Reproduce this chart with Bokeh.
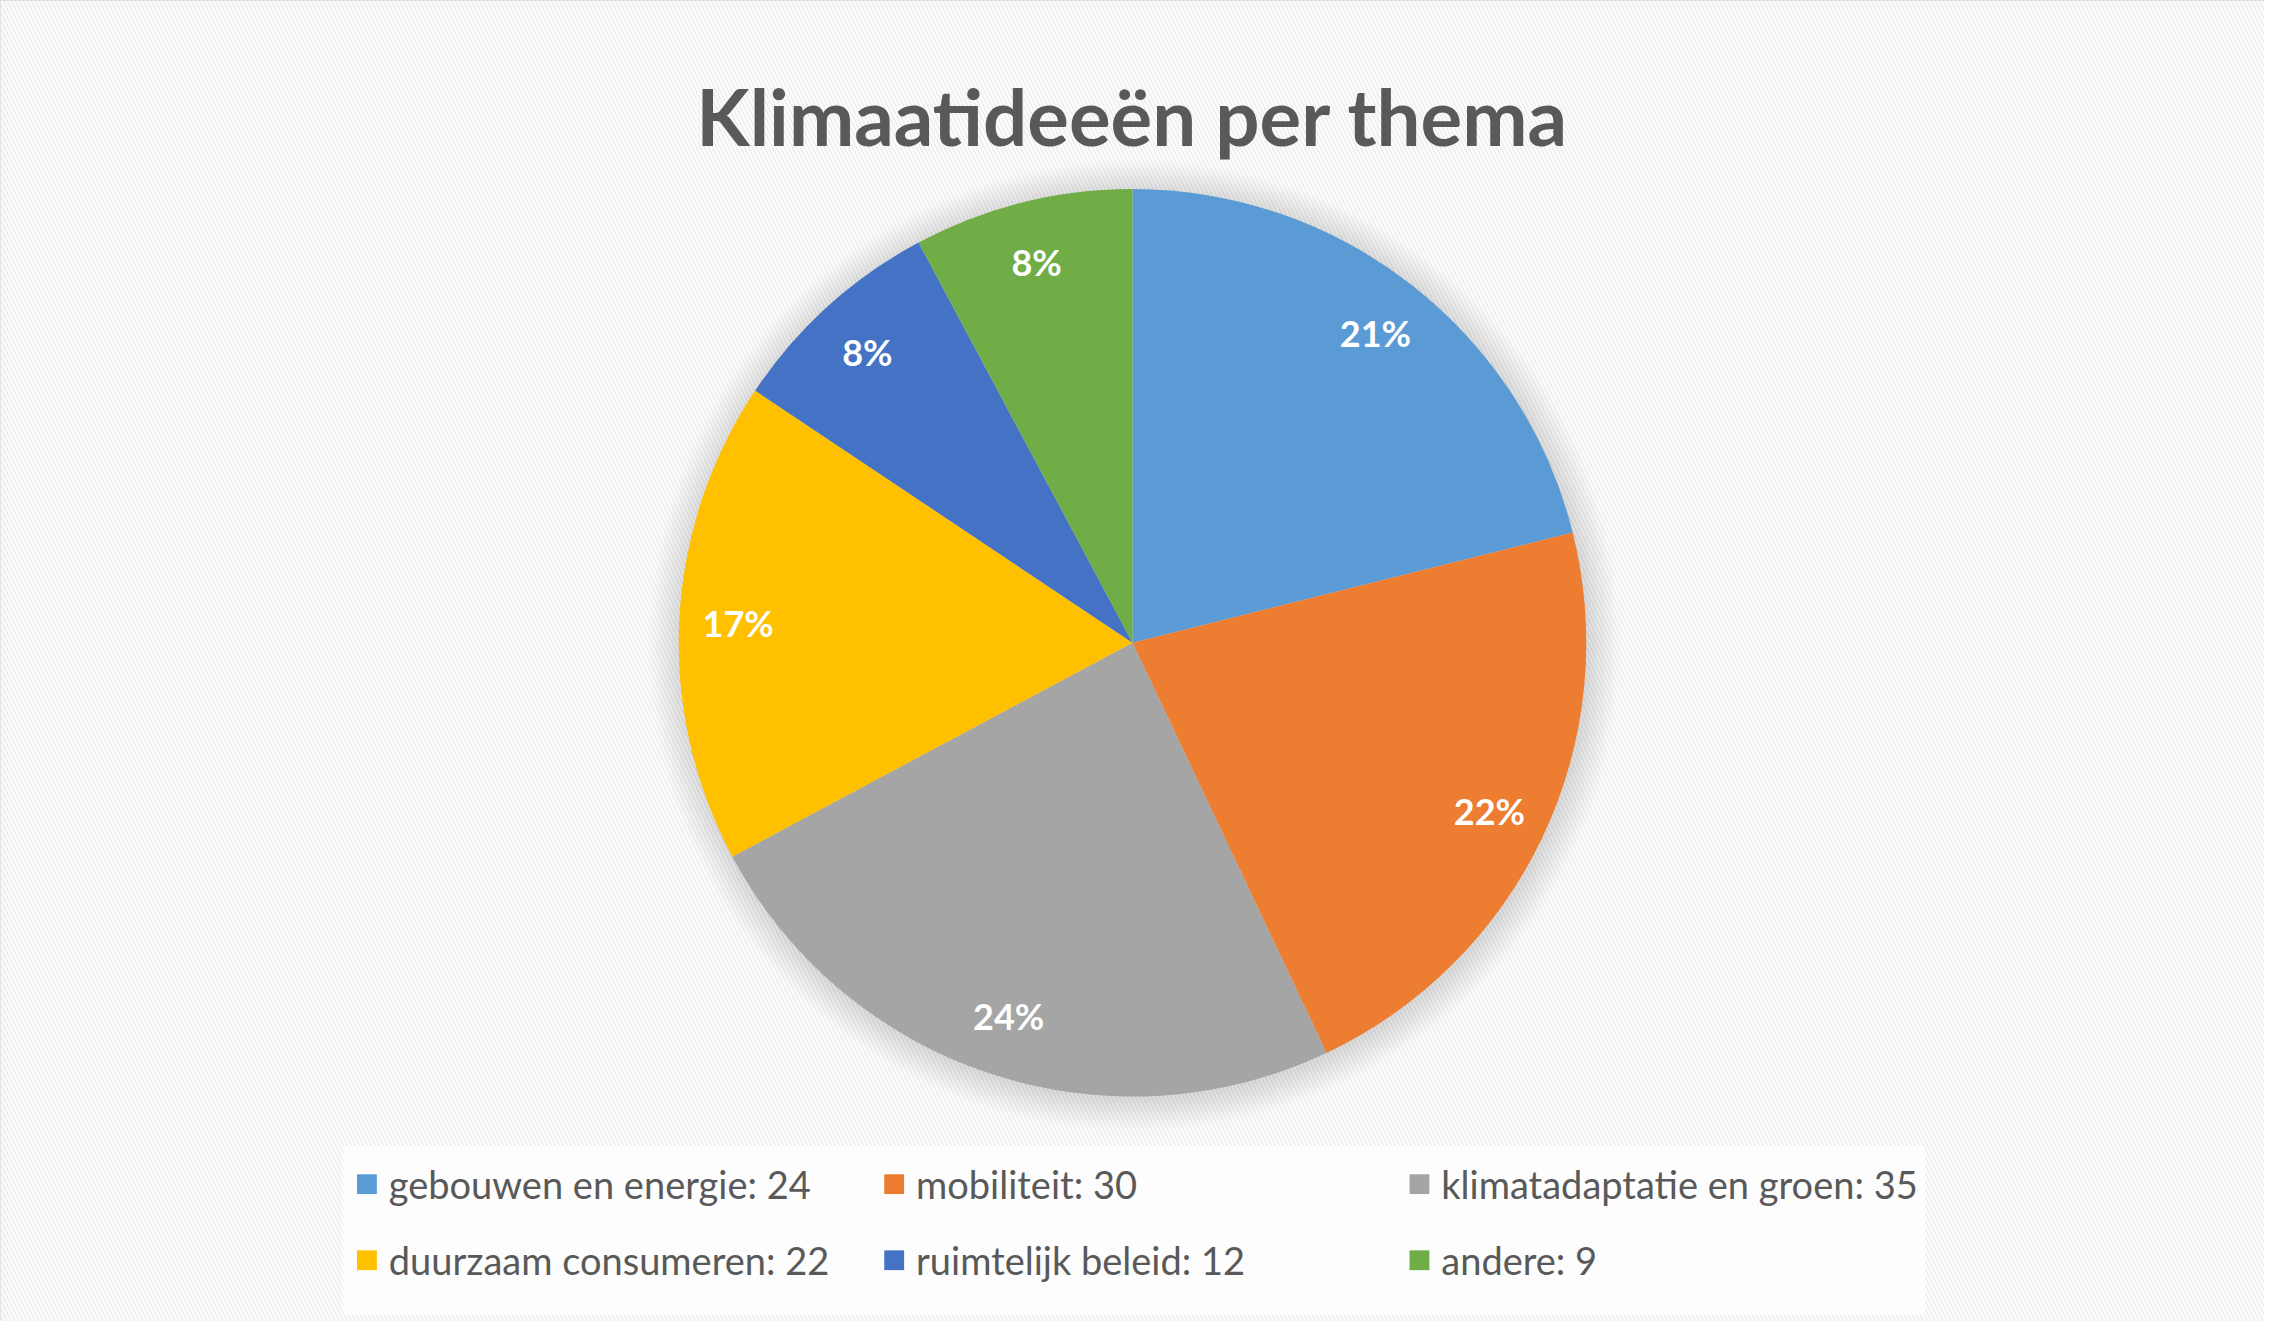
import math
from bokeh.plotting import figure
from bokeh.models import Range1d, ColumnDataSource
from bokeh.core.properties import value
from bokeh.embed import file_html
from bokeh.resources import INLINE

# ---- data ----
categories = ["gebouwen en energie", "mobiliteit", "klimatadaptatie en groen",
              "duurzaam consumeren", "ruimtelijk beleid", "andere"]
legend_counts = [24, 30, 35, 22, 12, 9]
slice_values = [27, 28, 31, 22, 10, 10]   # slice sizes as drawn (21/22/24/17/8/8 %)
colors = ["#5B9BD5", "#ED7D31", "#A5A5A5", "#FFC000", "#4472C4", "#70AD47"]
title_text = "Klimaatideeën per thema"

W, H = 2280, 1337
M = 8
FONT = "Lato"

def Y(y):
    return H - y

p = figure(width=W - 2 * M, height=H - 2 * M, output_backend="svg",
           toolbar_location=None, x_range=Range1d(0, W),
           y_range=Range1d(0, H), min_border=0)
p.axis.visible = False
p.grid.visible = False
p.outline_line_color = "#d4d4d4"
p.outline_line_width = 3
p.background_fill_color = "white"
p.border_fill_color = "white"

# patterned background
p.rect(x=[W / 2], y=[H / 2], width=[W], height=[H], fill_color="white",
       line_color=None, hatch_pattern="\\", hatch_color="#efefef",
       hatch_scale=8, hatch_weight=2)

# pie
cx, cy, R = 1140, 650, 457
total = sum(slice_values)
fracs = [v / total for v in slice_values]
starts, ends, mids = [], [], []
c = 0.0
for f in fracs:
    a0 = math.pi / 2 - 2 * math.pi * (c + f)
    a1 = math.pi / 2 - 2 * math.pi * c
    starts.append(a0)
    ends.append(a1)
    mids.append((a0 + a1) / 2)
    c += f

# soft shadow
for k in range(1, 32, 2):
    p.circle(x=[cx + 2], y=[Y(cy + 3)], radius=R + k, fill_color="black",
             fill_alpha=0.0075, line_color=None)

src = ColumnDataSource(dict(start=starts, end=ends, color=colors))
p.wedge(x=cx, y=Y(cy), radius=R, start_angle="start", end_angle="end",
        fill_color="color", line_color=None, source=src)

# percent labels
lr = 0.87 * R
lx = [cx + lr * math.cos(a) for a in mids]
ly = [Y(cy) + lr * math.sin(a) for a in mids]
ltxt = [f"{round(100 * f)}%" for f in fracs]
p.text(x=lx, y=ly, text=ltxt, text_color="white", text_font=value(FONT),
       text_font_style="bold", text_font_size="36px", text_align="center",
       text_baseline="middle")

# title
p.text(x=[1140], y=[Y(117)], text=[title_text], text_color="#595959",
       text_font=value(FONT), text_font_style="bold", text_font_size="78px",
       text_align="center", text_baseline="alphabetic")

# legend
p.rect(x=[(345 + 1938) / 2], y=[Y((1159 + 1330) / 2)], width=[1938 - 345],
       height=[1330 - 1159], fill_color="white", fill_alpha=0.75, line_color=None)
col_x = [359, 890, 1419]
row_y = [1198, 1275]
mx, my, tx, ty, lt = [], [], [], [], []
for i, (name, cnt) in enumerate(zip(categories, legend_counts)):
    r, col = divmod(i, 3)
    mx.append(col_x[col] + 10)
    my.append(Y(row_y[r]))
    tx.append(col_x[col] + 32)
    ty.append(Y(row_y[r]))
    lt.append(f"{name}: {cnt}")
p.rect(x=mx, y=my, width=20, height=20, fill_color=colors, line_color=None)
p.text(x=tx, y=ty, text=lt, text_color="#595959", text_font=value(FONT),
       text_font_size="38px", text_align="left", text_baseline="middle")

open("out.html", "w").write(file_html(p, INLINE))
